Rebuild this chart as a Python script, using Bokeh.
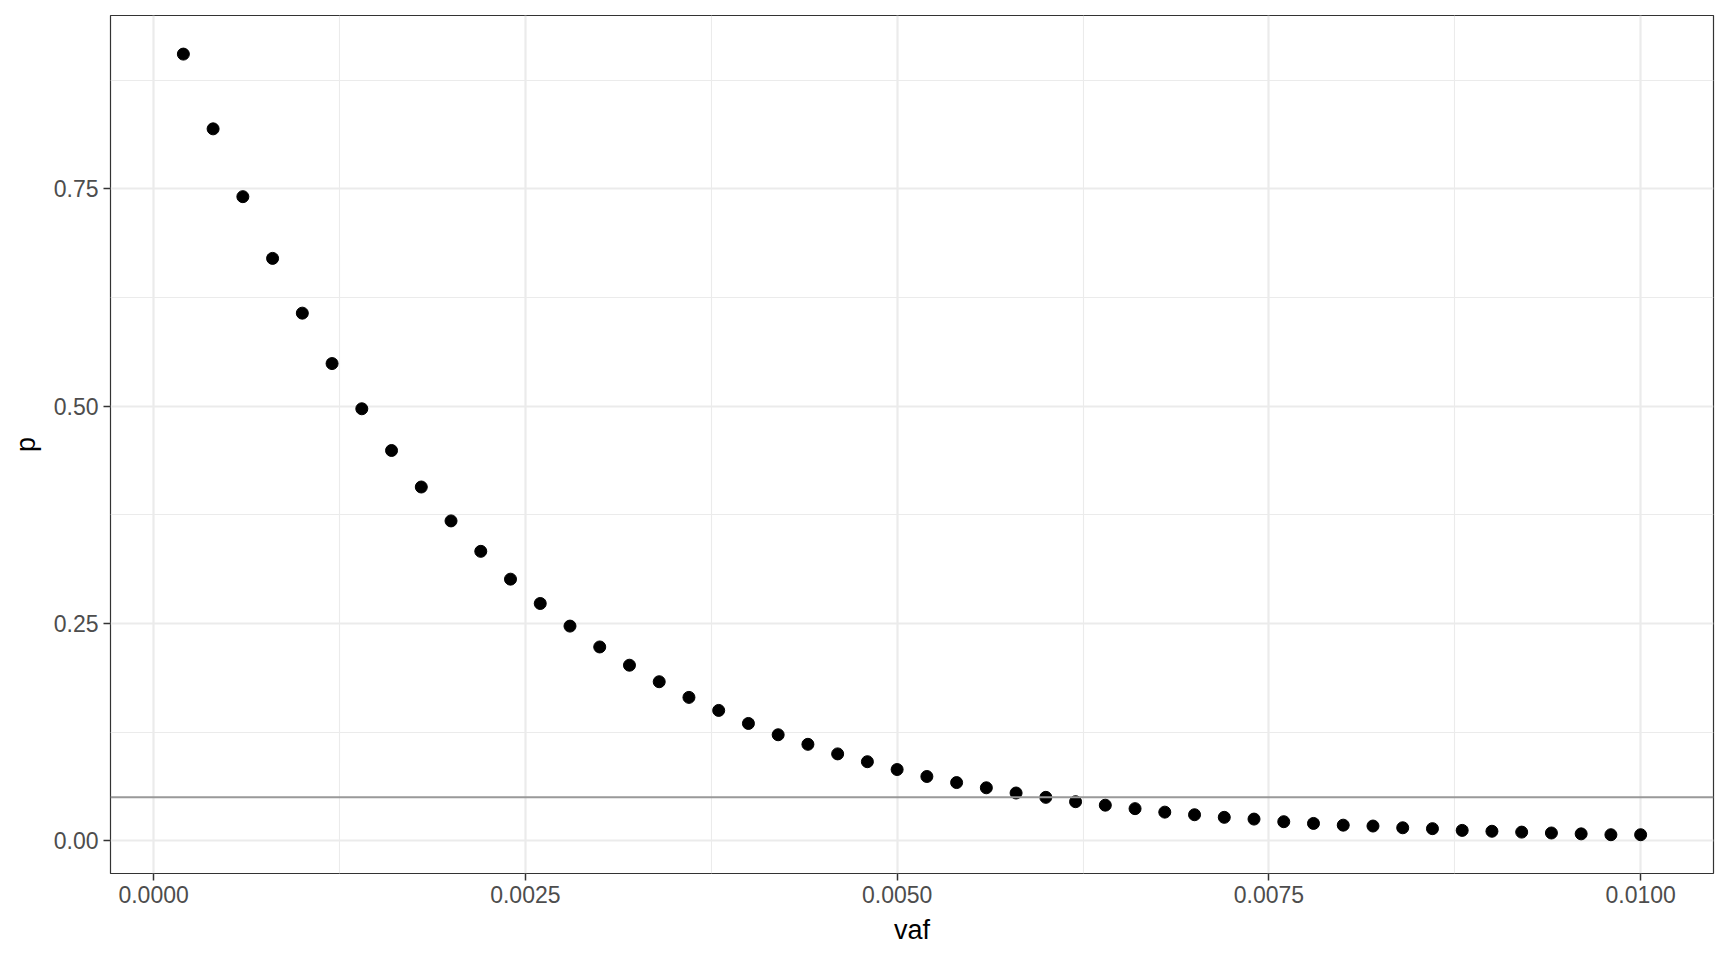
from bokeh.plotting import figure
from bokeh.models import Range1d, FixedTicker, NumeralTickFormatter, Span
from bokeh.embed import file_html
from bokeh.resources import INLINE

vaf = [0.0002, 0.0004, 0.0006, 0.0008, 0.0010, 0.0012, 0.0014, 0.0016, 0.0018, 0.0020,
       0.0022, 0.0024, 0.0026, 0.0028, 0.0030, 0.0032, 0.0034, 0.0036, 0.0038, 0.0040,
       0.0042, 0.0044, 0.0046, 0.0048, 0.0050, 0.0052, 0.0054, 0.0056, 0.0058, 0.0060,
       0.0062, 0.0064, 0.0066, 0.0068, 0.0070, 0.0072, 0.0074, 0.0076, 0.0078, 0.0080,
       0.0082, 0.0084, 0.0086, 0.0088, 0.0090, 0.0092, 0.0094, 0.0096, 0.0098, 0.0100]
p_vals = [0.905, 0.819, 0.741, 0.670, 0.607, 0.549, 0.497, 0.449, 0.407, 0.368,
          0.333, 0.301, 0.273, 0.247, 0.223, 0.202, 0.183, 0.165, 0.150, 0.135,
          0.122, 0.111, 0.100, 0.091, 0.082, 0.074, 0.067, 0.061, 0.055, 0.050,
          0.045, 0.041, 0.037, 0.033, 0.030, 0.027, 0.025, 0.022, 0.020, 0.018,
          0.017, 0.015, 0.014, 0.012, 0.011, 0.010, 0.009, 0.008, 0.007, 0.007]
threshold = 0.05
x_ticks = [0.0, 0.0025, 0.005, 0.0075, 0.01]
x_minor = [0.00125, 0.00375, 0.00625, 0.00875]
y_ticks = [0.0, 0.25, 0.5, 0.75]
y_minor = [0.125, 0.375, 0.625, 0.875]

FONT = "Liberation Sans"

p = figure(width=1720, height=952, output_backend="svg", toolbar_location=None,
           x_range=Range1d(-0.00029, 0.01049), y_range=Range1d(-0.0376, 0.9494),
           min_border_left=110, min_border_right=7, min_border_top=15, min_border_bottom=79)
p.background_fill_color = "white"
p.border_fill_color = "white"
p.outline_line_color = "#333333"
p.outline_line_width = 1.2

p.xaxis.ticker = FixedTicker(ticks=x_ticks, minor_ticks=x_minor)
p.yaxis.ticker = FixedTicker(ticks=y_ticks, minor_ticks=y_minor)
p.xaxis.formatter = NumeralTickFormatter(format="0.0000")
p.yaxis.formatter = NumeralTickFormatter(format="0.00")

for ax in (p.xaxis, p.yaxis):
    ax.axis_line_color = None
    ax.major_tick_line_color = "#333333"
    ax.major_tick_line_width = 1.5
    ax.major_tick_out = 7
    ax.major_tick_in = 0
    ax.minor_tick_line_color = None
    ax.major_label_text_font = FONT
    ax.major_label_text_font_size = "23px"
    ax.major_label_text_color = "#4D4D4D"
    ax.axis_label_text_font = FONT
    ax.axis_label_text_font_size = "27px"
    ax.axis_label_text_font_style = "normal"
    ax.axis_label_text_color = "black"
    ax.major_label_standoff = 5

p.xaxis.axis_label = "vaf"
p.yaxis.axis_label = "p"
p.xaxis.axis_label_standoff = 9
p.yaxis.axis_label_standoff = 10

p.xgrid.grid_line_color = "#EBEBEB"
p.ygrid.grid_line_color = "#EBEBEB"
p.xgrid.grid_line_width = 2.2
p.ygrid.grid_line_width = 2.2
p.xgrid.minor_grid_line_color = "#EBEBEB"
p.ygrid.minor_grid_line_color = "#EBEBEB"
p.xgrid.minor_grid_line_width = 1.1
p.ygrid.minor_grid_line_width = 1.1

p.add_layout(Span(location=threshold, dimension="width", line_color="#999999", line_width=2))
p.scatter(vaf, p_vals, size=12, fill_color="black", line_color="black")

open("out.html", "w").write(file_html(p, INLINE))
